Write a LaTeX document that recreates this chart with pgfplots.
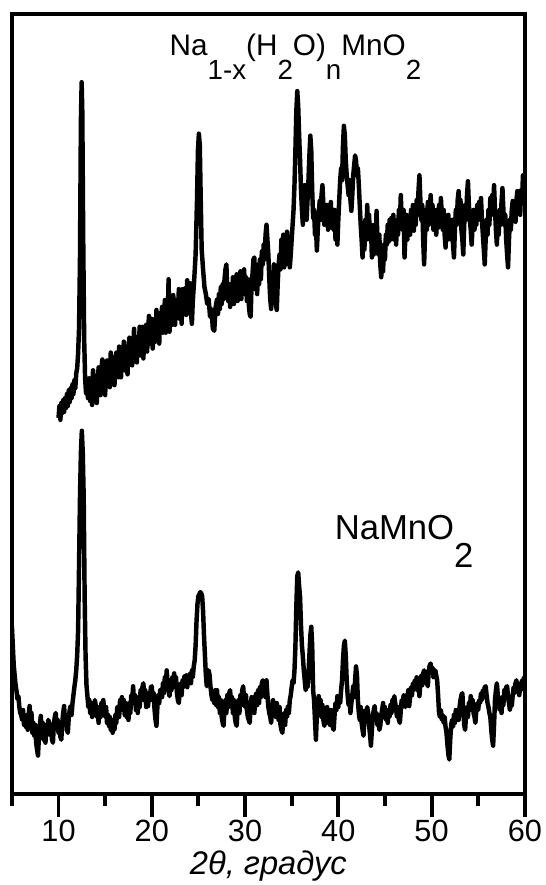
\documentclass[border=0pt]{standalone}
\usepackage{fontspec}
\setmainfont{Liberation Sans}
\usepackage{pgfplots}
\pgfplotsset{compat=1.18}

\pgfplotstableread{
x y
10.0 380
10.1 392
10.2 378
10.3 395
10.4 385
10.5 398
10.6 386
10.7 400
10.8 390
10.9 404
11.0 392
11.1 408
11.2 396
11.3 410
11.4 400
11.5 414
11.6 404
11.7 418
11.8 410
11.9 425
12.0 430
12.1 445
12.2 470
12.3 540
12.4 680
12.48 719
12.55 690
12.65 560
12.75 460
12.85 420
12.95 405
13.05 412
13.15 400
13.3 420
13.4 397
13.5 412
13.6 393
13.7 428
13.8 416
13.9 399
14.0 422
14.1 395
14.2 416
14.3 431
14.4 410
14.5 403
14.6 430
14.7 439
14.8 411
14.9 418
15.0 403
15.1 430
15.2 438
15.3 413
15.4 428
15.5 411
15.6 446
15.7 433
15.8 419
15.9 441
16.0 413
16.1 432
16.2 446
16.3 429
16.4 421
16.5 452
16.6 445
16.7 421
16.8 443
16.9 431
17.0 457
17.1 428
17.2 452
17.3 439
17.4 424
17.5 451
17.6 461
17.7 438
17.8 459
17.9 433
18.0 448
18.1 470
18.2 440
18.3 455
18.4 436
18.5 462
18.6 449
18.7 472
18.8 443
18.9 458
19.0 472
19.1 440
19.2 467
19.3 454
19.4 474
19.5 447
19.6 468
19.7 483
19.8 455
19.9 463
20.0 480
20.1 450
20.2 478
20.3 472
20.4 457
20.5 489
20.6 465
20.7 479
20.8 455
20.9 486
21.0 474
21.1 492
21.2 466
21.3 474
21.4 499
21.5 466
21.6 488
21.7 473
21.8 520
21.9 467
22.0 486
22.1 496
22.2 474
22.3 504
22.4 483
22.5 474
22.6 499
22.7 495
22.8 481
22.9 510
23.0 480
23.1 500
23.2 475
23.3 510
23.4 497
23.5 490
23.6 511
23.7 484
23.8 519
23.9 498
24.0 491
24.1 516
24.2 486
24.3 475
24.4 498
24.55 520
24.7 545
24.85 600
24.95 650
25.05 667
25.15 655
25.25 600
25.35 550
25.5 530
25.65 512
25.8 505
25.95 495
26.1 500
26.25 482
26.4 490
26.55 470
26.7 468
26.85 492
27.0 500
27.1 485
27.2 505
27.3 490
27.4 512
27.5 495
27.6 515
27.7 500
27.8 520
27.9 530
28.0 535
28.1 505
28.2 498
28.3 515
28.4 492
28.5 512
28.6 500
28.7 522
28.8 495
28.9 515
29.0 502
29.1 525
29.2 498
29.3 518
29.4 505
29.5 528
29.6 500
29.7 520
29.8 506
29.9 530
30.0 505
30.1 522
30.2 498
30.3 520
30.4 495
30.5 485
30.6 482
30.7 515
30.8 525
30.9 540
31.0 542
31.1 510
31.2 528
31.3 505
31.4 535
31.5 515
31.6 540
31.7 520
31.8 548
31.9 535
32.0 555
32.1 540
32.2 565
32.3 575
32.4 560
32.5 545
32.6 520
32.7 500
32.8 490
32.9 525
33.0 510
33.1 535
33.2 505
33.3 495
33.4 489
33.5 515
33.6 535
33.7 545
33.8 530
33.9 560
34.0 540
34.1 565
34.2 532
34.3 560
34.4 535
34.5 568
34.6 540
34.7 560
34.8 532
34.9 545
35.0 560
35.1 575
35.2 590
35.3 615
35.4 650
35.5 690
35.6 710
35.7 695
35.8 665
35.9 640
36.0 610
36.1 590
36.2 575
36.3 600
36.4 615
36.5 595
36.6 580
36.7 600
36.8 620
36.9 645
37.0 665
37.1 650
37.2 610
37.3 582
37.4 590
37.5 565
37.6 575
37.7 549
37.8 570
37.9 585
38.0 599
38.1 580
38.2 605
38.3 615
38.4 595
38.5 575
38.6 590
38.7 575
38.8 595
38.9 570
39.0 590
39.1 575
39.2 598
39.3 572
39.4 582
39.5 570
39.6 590
39.7 560
39.8 575
39.9 555
40.0 580
40.1 600
40.2 620
40.3 632
40.4 620
40.5 655
40.6 675
40.7 665
40.8 640
40.9 625
41.0 615
41.1 605
41.2 620
41.3 600
41.4 589
41.5 605
41.6 625
41.7 635
41.8 645
41.9 640
42.0 625
42.1 632
42.2 615
42.3 595
42.4 575
42.5 560
42.6 542
42.7 565
42.8 550
42.9 580
43.0 560
43.1 595
43.2 570
43.3 585
43.4 560
43.5 575
43.6 542
43.7 560
43.8 545
43.9 575
44.0 555
44.1 589
44.2 560
44.3 545
44.4 565
44.5 535
44.6 522
44.7 540
44.8 528
44.9 555
45.0 540
45.1 565
45.2 555
45.3 575
45.4 558
45.5 580
45.6 560
45.7 582
45.8 565
45.9 585
46.0 560
46.1 578
46.2 555
46.3 580
46.4 565
46.5 590
46.6 575
46.7 605
46.8 580
46.9 570
47.0 590
47.1 542
47.2 565
47.3 585
47.4 560
47.5 578
47.6 582
47.7 565
47.8 590
47.9 572
48.0 595
48.1 569
48.2 590
48.3 575
48.4 600
48.5 585
48.6 610
48.7 625
48.8 600
48.9 580
49.0 595
49.1 560
49.2 535
49.3 565
49.4 590
49.5 570
49.6 598
49.7 575
49.8 590
49.9 605
50.0 580
50.1 595
50.2 570
50.3 590
50.4 582
50.5 565
50.6 590
50.7 572
50.8 595
50.9 580
51.0 602
51.1 585
51.2 570
51.3 590
51.4 565
51.5 552
51.6 575
51.7 560
51.8 585
51.9 565
52.0 579
52.1 560
52.2 580
52.3 555
52.4 542
52.5 570
52.6 590
52.7 575
52.8 600
52.9 609
53.0 585
53.1 600
53.2 570
53.3 560
53.4 545
53.5 575
53.6 595
53.7 580
53.8 605
53.9 619
54.0 595
54.1 580
54.2 570
54.3 555
54.4 575
54.5 590
54.6 570
54.7 585
54.8 575
54.9 595
55.0 580
55.1 598
55.2 585
55.3 602
55.4 580
55.5 565
55.6 550
55.7 535
55.8 560
55.9 580
56.0 565
56.1 590
56.2 575
56.3 602
56.4 585
56.5 605
56.6 590
56.7 615
56.8 590
56.9 570
57.0 555
57.1 580
57.2 565
57.3 590
57.4 575
57.5 598
57.6 612
57.7 590
57.8 575
57.9 585
58.0 560
58.1 545
58.2 532
58.3 560
58.4 580
58.5 570
58.6 590
58.7 599
58.8 580
58.9 595
59.0 578
59.1 600
59.2 609
59.3 590
59.4 605
59.5 585
59.6 610
59.7 600
59.8 625
59.9 612
60.0 620
}\hydrated

\pgfplotstableread{
x y
5.0 170
5.1 150
5.2 130
5.3 120
5.4 110
5.5 104
5.6 96
5.7 99
5.8 88
5.9 82
6.0 80
6.1 75
6.2 85
6.3 70
6.4 80
6.5 68
6.6 78
6.7 65
6.8 80
6.9 89
7.0 72
7.1 82
7.2 62
7.3 72
7.4 59
7.5 70
7.6 52
7.7 45
7.8 39
7.9 58
8.0 70
8.1 79
8.2 62
8.3 72
8.4 55
8.5 65
8.6 52
8.7 70
8.8 60
8.9 75
9.0 72
9.1 60
9.2 70
9.3 55
9.4 52
9.5 70
9.6 78
9.7 82
9.8 68
9.9 75
10.0 62
10.1 70
10.2 58
10.3 55
10.4 72
10.5 82
10.6 89
10.7 70
10.8 80
10.9 65
11.0 62
11.1 78
11.2 85
11.3 89
11.4 80
11.5 92
11.6 100
11.7 108
11.8 115
11.9 125
12.0 140
12.1 165
12.2 230
12.3 299
12.4 345
12.5 367
12.6 345
12.7 300
12.8 200
12.9 140
13.0 110
13.1 99
13.2 88
13.3 95
13.4 82
13.5 90
13.6 78
13.7 92
13.8 80
13.9 95
14.0 89
14.1 78
14.2 85
14.3 72
14.4 88
14.5 78
14.6 92
14.7 80
14.8 95
14.9 85
15.0 78
15.1 88
15.2 72
15.3 80
15.4 69
15.5 78
15.6 65
15.7 75
15.8 62
15.9 70
16.0 65
16.1 80
16.2 72
16.3 88
16.4 85
16.5 78
16.6 95
16.7 85
16.8 98
16.9 88
17.0 95
17.1 80
17.2 92
17.3 78
17.4 85
17.5 75
17.6 92
17.7 82
17.8 100
17.9 95
18.0 109
18.1 92
18.2 100
18.3 85
18.4 92
18.5 82
18.6 98
18.7 88
18.8 105
18.9 95
19.0 108
19.1 112
19.2 95
19.3 105
19.4 88
19.5 98
19.6 89
19.7 102
19.8 95
19.9 108
20.0 109
20.1 95
20.2 102
20.3 85
20.4 75
20.5 69
20.6 88
20.7 100
20.8 92
20.9 105
21.0 105
21.1 98
21.2 112
21.3 102
21.4 118
21.5 110
21.6 125
21.7 112
21.8 105
21.9 99
22.0 112
22.1 105
22.2 118
22.3 108
22.4 122
22.5 110
22.6 118
22.7 102
22.8 95
22.9 92
23.0 105
23.1 112
23.2 100
23.3 115
23.4 108
23.5 119
23.6 110
23.7 120
23.8 108
23.9 118
24.0 115
24.1 122
24.2 112
24.3 125
24.4 118
24.5 129
24.6 135
24.7 150
24.8 175
24.9 192
25.0 200
25.1 202
25.2 204
25.3 203
25.4 200
25.5 185
25.6 160
25.7 140
25.8 120
25.9 109
26.0 115
26.1 125
26.2 120
26.3 108
26.4 100
26.5 95
26.6 102
26.7 92
26.8 105
26.9 90
27.0 105
27.1 88
27.2 98
27.3 82
27.4 95
27.5 78
27.6 72
27.7 69
27.8 88
27.9 95
28.0 82
28.1 100
28.2 88
28.3 102
28.4 105
28.5 90
28.6 98
28.7 82
28.8 95
28.9 78
29.0 72
29.1 69
29.2 85
29.3 95
29.4 82
29.5 100
29.6 90
29.7 105
29.8 109
29.9 95
30.0 88
30.1 100
30.2 85
30.3 78
30.4 75
30.5 72
30.6 88
30.7 98
30.8 85
30.9 95
31.0 82
31.1 98
31.2 102
31.3 90
31.4 105
31.5 92
31.6 108
31.7 98
31.8 112
31.9 115
32.0 102
32.1 110
32.2 98
32.3 115
32.4 100
32.5 88
32.6 82
32.7 78
32.8 72
32.9 85
33.0 95
33.1 80
33.2 90
33.3 78
33.4 92
33.5 85
33.6 75
33.7 88
33.8 70
33.9 65
34.0 62
34.1 75
34.2 82
34.3 70
34.4 85
34.5 78
34.6 89
34.7 82
34.8 95
34.9 100
35.0 108
35.1 115
35.2 112
35.3 125
35.4 149
35.5 190
35.6 220
35.7 224
35.8 210
35.9 199
36.0 170
36.1 150
36.2 139
36.3 125
36.4 115
36.5 105
36.6 112
36.7 108
36.8 122
36.9 140
37.0 160
37.1 169
37.2 150
37.3 105
37.4 95
37.5 75
37.6 55
37.7 80
37.8 92
37.9 99
38.0 85
38.1 95
38.2 78
38.3 90
38.4 75
38.5 69
38.6 82
38.7 72
38.8 88
38.9 78
39.0 82
39.1 70
39.2 85
39.3 72
39.4 68
39.5 65
39.6 80
39.7 92
39.8 85
39.9 99
40.0 88
40.1 98
40.2 92
40.3 105
40.4 115
40.5 135
40.6 150
40.7 155
40.8 140
40.9 115
41.0 100
41.1 90
41.2 95
41.3 82
41.4 92
41.5 100
41.6 109
41.7 98
41.8 115
41.9 129
42.0 120
42.1 95
42.2 82
42.3 75
42.4 88
42.5 72
42.6 65
42.7 59
42.8 75
42.9 85
43.0 78
43.1 88
43.2 82
43.3 70
43.4 60
43.5 49
43.6 65
43.7 78
43.8 85
43.9 89
44.0 75
44.1 82
44.2 70
44.3 78
44.4 65
44.5 69
44.6 80
44.7 85
44.8 92
44.9 78
45.0 88
45.1 75
45.2 80
45.3 72
45.4 85
45.5 78
45.6 90
45.7 82
45.8 95
45.9 88
46.0 99
46.1 92
46.2 85
46.3 78
46.4 88
46.5 75
46.6 72
46.7 85
46.8 95
46.9 88
47.0 100
47.1 95
47.2 88
47.3 100
47.4 92
47.5 105
47.6 89
47.7 98
47.8 108
47.9 100
48.0 112
48.1 105
48.2 115
48.3 108
48.4 118
48.5 105
48.6 112
48.7 99
48.8 112
48.9 120
49.0 110
49.1 122
49.2 125
49.3 115
49.4 120
49.5 112
49.6 109
49.7 125
49.8 130
49.9 132
50.0 122
50.1 128
50.2 118
50.3 119
50.4 125
50.5 120
50.6 115
50.7 100
50.8 82
50.9 78
51.0 85
51.1 75
51.2 80
51.3 72
51.4 78
51.5 68
51.6 62
51.7 50
51.8 40
51.9 35
52.0 55
52.1 70
52.2 75
52.3 68
52.4 80
52.5 72
52.6 85
52.7 78
52.8 82
52.9 75
53.0 88
53.1 95
53.2 100
53.3 102
53.4 85
53.5 70
53.6 65
53.7 80
53.8 88
53.9 78
54.0 92
54.1 85
54.2 99
54.3 88
54.4 95
54.5 82
54.6 78
54.7 72
54.8 85
54.9 92
55.0 85
55.1 95
55.2 92
55.3 102
55.4 95
55.5 105
55.6 98
55.7 108
55.8 109
55.9 100
56.0 92
56.1 88
56.2 82
56.3 78
56.4 65
56.5 55
56.6 49
56.7 70
56.8 95
56.9 105
57.0 112
57.1 100
57.2 92
57.3 85
57.4 95
57.5 82
57.6 98
57.7 90
57.8 105
57.9 98
58.0 108
58.1 109
58.2 98
58.3 92
58.4 85
58.5 95
58.6 89
58.7 100
58.8 108
58.9 102
59.0 112
59.1 115
59.2 105
59.3 112
59.4 100
59.5 108
59.6 105
59.7 115
59.8 108
59.9 118
60.0 115
}\anhydrous

\begin{document}
\begin{tikzpicture}
\begin{axis}[
    scale only axis,
    width=518pt, height=788pt,
    xmin=5, xmax=60,
    ymin=0, ymax=788,
    xtick={10,20,...,60},
    minor xtick={5,15,...,55},
    ytick=\empty,
    xtick pos=lower,
    tick align=outside,
    major tick length=23pt,
    minor tick length=12pt,
    tick style={black, line width=4pt},
    axis line style={line width=4.5pt},
    /pgf/number format/assume math mode=true,
    tick label style={font=\fontsize{31}{34}\selectfont},
    xlabel={\textit{2θ, градус}},
    label style={font=\fontsize{33}{36}\selectfont},
    xlabel style={at={(axis description cs:0.5,0)}, anchor=center, yshift=-73pt},
    clip=true,
]
\addplot[black, line width=4.5pt, line join=round] table[x=x, y=y] {\hydrated};
\addplot[black, line width=4.5pt, line join=round] table[x=x, y=y] {\anhydrous};

\node[anchor=base west, font=\fontsize{30}{30}\selectfont, inner sep=0pt]
  at (axis cs:21.9,746)
  {Na\raisebox{-24pt}{\fontsize{28}{28}\selectfont 1-x}(H\raisebox{-24pt}{\fontsize{28}{28}\selectfont 2}O)\raisebox{-24pt}{\fontsize{28}{28}\selectfont n}MnO\raisebox{-24pt}{\fontsize{28}{28}\selectfont 2}};
\node[anchor=base west, font=\fontsize{35}{35}\selectfont, inner sep=0pt]
  at (axis cs:39.6,257)
  {NaMnO\raisebox{-28pt}{2}};
\end{axis}
\path (-12pt,-85pt) rectangle (538pt,802pt);
\end{tikzpicture}
\end{document}
